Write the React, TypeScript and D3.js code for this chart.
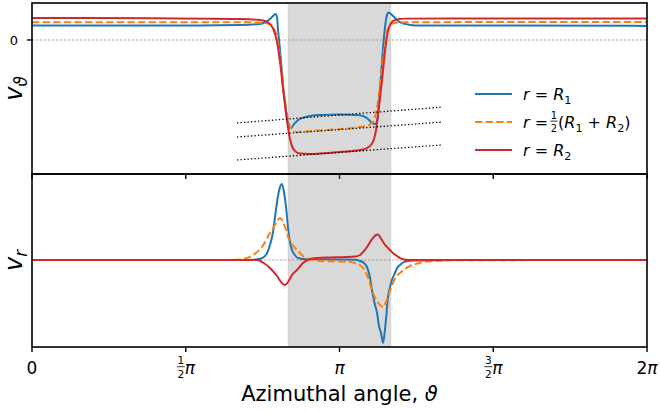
import React from 'react';
import * as d3 from 'd3';

const FONT = 'DejaVu Sans';

// azimuthal angle in degrees (0..360), velocities in arbitrary units

// top panel, v_theta
const r1TopTheta = [0, 98.3, 121.8, 133.5, 137.0, 139.3, 141.1, 142.5, 143.4, 144.0, 144.6, 145.8, 146.9, 148.1, 149.3, 150.4, 151.6, 153.4, 155.7, 158.0, 162.7, 168.6, 180.3, 189.1, 193.8, 196.7, 199.0, 200.8, 202.0, 203.1, 204.3, 205.5, 206.6, 207.8, 208.7, 210.1, 211.9, 214.2, 218.3, 224.2, 244.7, 360];
const r1TopV = [0.66, 0.66, 0.68, 0.73, 0.82, 0.95, 1.09, 1.18, 1.05, 0.45, 0, -1.0, -2.05, -2.86, -3.55, -3.98, -4.0, -3.82, -3.64, -3.55, -3.45, -3.41, -3.39, -3.41, -3.45, -3.59, -3.77, -3.82, -3.68, -2.95, -1.59, -0.36, 0.55, 1.14, 1.25, 1.18, 1.05, 0.86, 0.73, 0.66, 0.66, 0.64];

const midTopTheta = [0, 127.6, 136.4, 139.3, 141.7, 143.4, 145.2, 146.9, 148.7, 149.9, 151.0, 152.8, 155.7, 159.8, 168.6, 180.3, 192.0, 196.7, 199.0, 200.8, 202.5, 204.3, 206.1, 207.8, 209.6, 212.5, 218.3, 244.7, 360];
const midTopV = [0.8, 0.8, 0.77, 0.7, 0.5, 0.09, -0.82, -2.0, -3.09, -3.64, -3.91, -4.09, -4.18, -4.16, -4.11, -4.05, -3.95, -3.89, -3.77, -3.5, -2.82, -1.64, -0.45, 0.36, 0.68, 0.78, 0.8, 0.81, 0.82];

const r2TopTheta = [0, 69.1, 121.8, 133.5, 137.6, 139.9, 141.7, 143.4, 145.2, 146.9, 148.7, 149.9, 151.0, 152.2, 154.0, 156.9, 162.7, 168.6, 180.3, 192.0, 196.1, 198.4, 200.2, 201.4, 202.5, 203.7, 204.9, 206.1, 207.2, 208.4, 209.6, 211.3, 213.7, 218.3, 244.7, 360];
const r2TopV = [1.0, 0.99, 0.95, 0.91, 0.82, 0.68, 0.41, -0.09, -1.0, -2.18, -3.32, -4.0, -4.5, -4.82, -5.05, -5.16, -5.18, -5.16, -5.09, -5.0, -4.91, -4.77, -4.5, -4.09, -3.41, -2.64, -1.82, -0.91, -0.14, 0.41, 0.68, 0.86, 0.93, 0.97, 0.98, 0.98];

// dotted straight fits across the plateau
const fitTheta = [120, 240];
const fitR1 = [-3.77, -3.05];
const fitMid = [-4.41, -3.73];
const fitR2 = [-5.45, -4.77];

// bottom panel, v_r
const r1BotTheta = [0, 121.8, 129.4, 134.6, 137.6, 139.3, 141.1, 142.2, 144.0, 145.2, 146.3, 147.5, 148.7, 149.9, 151.0, 152.2, 154.0, 155.7, 159.8, 180.3, 189.1, 192.0, 194.3, 196.1, 197.9, 199.0, 200.8, 202.0, 203.1, 204.3, 205.5, 206.6, 207.2, 208.4, 209.6, 210.7, 212.5, 213.7, 215.4, 217.2, 220.1, 223.0, 244.7, 360];
const r1BotV = [0, 0, 0.03, 0.17, 0.7, 1.5, 2.8, 4.2, 6.4, 7.3, 7.6, 6.8, 5.3, 3.2, 1.8, 1.0, 0.45, 0.2, 0.08, 0.05, 0.02, -0.1, -0.3, -0.7, -1.8, -3.0, -4.5, -5.3, -6.6, -7.3, -8.3, -7.0, -6.0, -3.7, -2.7, -2.0, -1.3, -0.8, -0.5, -0.25, -0.1, -0.05, 0, 0];

const midBotTheta = [0, 113.0, 121.8, 129.4, 134.6, 139.3, 142.2, 145.2, 146.9, 148.7, 149.9, 152.2, 154.0, 156.9, 158.6, 162.7, 168.6, 180.3, 186.1, 189.1, 192.0, 194.3, 196.1, 197.9, 199.6, 202.0, 203.7, 205.5, 207.2, 208.4, 210.1, 211.3, 213.1, 215.4, 218.3, 221.3, 224.8, 228.9, 237.1, 244.7, 360];
const midBotV = [0, 0, 0.05, 0.5, 1.3, 2.7, 3.5, 4.2, 3.8, 3.0, 2.3, 1.6, 1.2, 0.7, 0.4, 0.05, -0.1, -0.15, -0.2, -0.3, -0.5, -0.9, -1.5, -2.4, -3.3, -4.1, -4.5, -4.7, -4.2, -3.7, -2.8, -2.3, -1.7, -1.3, -0.9, -0.6, -0.4, -0.2, -0.1, -0.03, 0];

const r2BotTheta = [0, 121.8, 131.7, 135.2, 139.3, 143.4, 146.3, 148.1, 149.9, 152.2, 155.1, 158.6, 162.7, 166.8, 174.4, 183.2, 189.1, 192.0, 194.3, 196.1, 197.9, 199.6, 201.4, 202.5, 203.7, 205.5, 207.2, 208.4, 210.1, 211.3, 213.7, 215.4, 217.8, 220.1, 244.7, 360];
const r2BotV = [0, 0, 0, -0.25, -0.8, -1.6, -2.3, -2.5, -2.2, -1.5, -1.0, -0.3, 0.1, 0.2, 0.25, 0.3, 0.35, 0.5, 0.9, 1.3, 1.8, 2.2, 2.5, 2.55, 2.3, 1.8, 1.4, 1.2, 0.9, 0.7, 0.4, 0.2, 0.05, 0, 0, 0];

const bandTheta = [150, 210];
const xTicks = [0, 90, 180, 270, 360];
const topLimits = [-6.09, 1.68];
const botLimits = [-8.7, 8.6];

const BLUE = '#1f77b4';
const ORANGE = '#ff7f0e';
const RED = '#d62728';

type Part = { t: string; i?: boolean; sub?: boolean };

const MText = ({ x, y, size, parts, anchor = 'start', transform }: any) => {
  let shift = 0;
  return (
    <text x={x} y={y} fontSize={size} fontFamily={FONT} textAnchor={anchor} transform={transform} style={{ whiteSpace: 'pre' }}>
      {parts.map((p: Part, k: number) => {
        const want = p.sub ? size * 0.22 : 0;
        const dy = want - shift;
        shift = want;
        return (
          <tspan key={k} dy={dy} fontStyle={p.i ? 'italic' : 'normal'} fontSize={p.sub ? size * 0.7 : size}>
            {p.t}
          </tspan>
        );
      })}
    </text>
  );
};

// stacked fraction, cx = centre, y = main baseline, f = main font size
const Frac = ({ cx, y, f, num, den }: any) => (
  <g fontFamily={FONT} fontSize={f * 0.62} textAnchor="middle">
    <text x={cx} y={y - f * 0.58}>{num}</text>
    <line x1={cx - f * 0.23} x2={cx + f * 0.23} y1={y - f * 0.43} y2={y - f * 0.43} stroke="black" strokeWidth={0.8} />
    <text x={cx} y={y + f * 0.22}>{den}</text>
  </g>
);

export default function App() {
  const W = 660, H = 412;
  const left = 32, right = 647, top1 = 3, mid = 174, bot2 = 347;

  const x = d3.scaleLinear().domain([0, 360]).range([left, right]);
  const yT = d3.scaleLinear().domain(topLimits).range([mid, top1]);
  const yB = d3.scaleLinear().domain(botLimits).range([bot2, mid]);

  const path = (th: number[], v: number[], y: any) =>
    d3.line<[number, number]>()
      .x(d => x(d[0]))
      .y(d => y(d[1]))
      .curve(d3.curveMonotoneX)(d3.zip(th, v) as [number, number][]) || '';
  const straight = (th: number[], v: number[], y: any) =>
    d3.line<[number, number]>().x(d => x(d[0])).y(d => y(d[1]))(d3.zip(th, v) as [number, number][]) || '';

  const tickF = 17;
  const tickY = 374;

  const tickLabel = (t: number) => {
    const cx = x(t);
    if (t === 0) return <text key={t} x={cx} y={tickY} textAnchor="middle" fontFamily={FONT} fontSize={tickF}>0</text>;
    if (t === 180) return <text key={t} x={cx} y={tickY} textAnchor="middle" fontFamily={FONT} fontSize={tickF} fontStyle="italic">π</text>;
    if (t === 360)
      return (
        <text key={t} x={cx} y={tickY} textAnchor="middle" fontFamily={FONT} fontSize={tickF}>
          2<tspan fontStyle="italic">π</tspan>
        </text>
      );
    const num = t === 90 ? '1' : '3';
    return (
      <g key={t}>
        <Frac cx={cx - 5} y={tickY} f={tickF} num={num} den="2" />
        <text x={cx - 1} y={tickY} fontFamily={FONT} fontSize={tickF} fontStyle="italic">π</text>
      </g>
    );
  };

  const legendRows = [
    { color: BLUE, dash: undefined, y: 94 },
    { color: ORANGE, dash: '7.4,3.2', y: 122 },
    { color: RED, dash: undefined, y: 150 },
  ];
  const lx = 523, lf = 16;

  return (
    <svg width={W} height={H} style={{ position: 'absolute', left: 0, top: 0 }} fontFamily={FONT}>
      <defs>
        <clipPath id="clipTop"><rect x={left} y={top1} width={right - left} height={mid - top1} /></clipPath>
        <clipPath id="clipBot"><rect x={left} y={mid} width={right - left} height={bot2 - mid} /></clipPath>
      </defs>
      <rect width={W} height={H} fill="white" />

      {/* ---- top panel ---- */}
      <rect x={x(bandTheta[0])} y={top1} width={x(bandTheta[1]) - x(bandTheta[0])} height={mid - top1}
        fill="#808080" fillOpacity={0.3} stroke="#808080" strokeOpacity={0.15} strokeWidth={1.5} />
      <line x1={left} x2={right} y1={yT(0)} y2={yT(0)} stroke="#999" strokeWidth={0.8} strokeDasharray="2.5,1.5" />
      <g clipPath="url(#clipTop)" fill="none" strokeWidth={2}>
        <path d={path(r1TopTheta, r1TopV, yT)} stroke={BLUE} />
        <path d={path(midTopTheta, midTopV, yT)} stroke={ORANGE} strokeDasharray="7.4,3.2" />
        <path d={path(r2TopTheta, r2TopV, yT)} stroke={RED} />
      </g>
      <g fill="none" stroke="black" strokeWidth={1.3} strokeDasharray="1.3,2.2">
        <path d={straight(fitTheta, fitR1, yT)} />
        <path d={straight(fitTheta, fitMid, yT)} />
        <path d={straight(fitTheta, fitR2, yT)} />
      </g>
      {xTicks.map(t => (
        <line key={'tt' + t} x1={x(t)} x2={x(t)} y1={mid} y2={mid + 5} stroke="black" strokeWidth={1.4} />
      ))}
      <line x1={left - 5} x2={left} y1={yT(0)} y2={yT(0)} stroke="black" strokeWidth={1.4} />
      <text x={left - 14} y={yT(0) + 4.7} textAnchor="end" fontSize={13}>0</text>
      <MText x={0} y={0} size={24} anchor="middle" transform={`translate(22,${(top1 + mid) / 2}) rotate(-90)`}
        parts={[{ t: 'v', i: true }, { t: 'ϑ', i: true, sub: true }]} />

      {/* legend */}
      {legendRows.map((r, k) => (
        <line key={k} x1={475} x2={512} y1={r.y} y2={r.y} stroke={r.color} strokeWidth={2} strokeDasharray={r.dash} />
      ))}
      <MText x={lx} y={legendRows[0].y + 6} size={lf} parts={[{ t: 'r', i: true }, { t: ' = ' }, { t: 'R', i: true }, { t: '1', sub: true }]} />
      <MText x={lx} y={legendRows[1].y + 6} size={lf} parts={[{ t: 'r', i: true }, { t: ' = ' }]} />
      <Frac cx={554} y={legendRows[1].y + 6} f={lf} num="1" den="2" />
      <MText x={558} y={legendRows[1].y + 6} size={lf}
        parts={[{ t: '(' }, { t: 'R', i: true }, { t: '1', sub: true }, { t: ' + ' }, { t: 'R', i: true }, { t: '2', sub: true }, { t: ')' }]} />
      <MText x={lx} y={legendRows[2].y + 6} size={lf} parts={[{ t: 'r', i: true }, { t: ' = ' }, { t: 'R', i: true }, { t: '2', sub: true }]} />

      {/* ---- bottom panel ---- */}
      <rect x={x(bandTheta[0])} y={mid} width={x(bandTheta[1]) - x(bandTheta[0])} height={bot2 - mid}
        fill="#808080" fillOpacity={0.3} stroke="#808080" strokeOpacity={0.15} strokeWidth={1.5} />
      <line x1={left} x2={right} y1={yB(0)} y2={yB(0)} stroke="#999" strokeWidth={0.8} strokeDasharray="2.5,1.5" />
      <g clipPath="url(#clipBot)" fill="none" strokeWidth={2}>
        <path d={path(r1BotTheta, r1BotV, yB)} stroke={BLUE} />
        <path d={path(midBotTheta, midBotV, yB)} stroke={ORANGE} strokeDasharray="7.4,3.2" />
        <path d={path(r2BotTheta, r2BotV, yB)} stroke={RED} />
      </g>
      {xTicks.map(t => (
        <line key={'bt' + t} x1={x(t)} x2={x(t)} y1={bot2} y2={bot2 + 5} stroke="black" strokeWidth={1.4} />
      ))}
      {xTicks.map(tickLabel)}
      <MText x={0} y={0} size={24} anchor="middle" transform={`translate(22,${(mid + bot2) / 2}) rotate(-90)`}
        parts={[{ t: 'v', i: true }, { t: 'r', i: true, sub: true }]} />
      <text x={(left + right) / 2} y={401} textAnchor="middle" fontSize={21}>
        Azimuthal angle, <tspan fontStyle="italic">ϑ</tspan>
      </text>

      {/* spines */}
      <rect x={left} y={top1} width={right - left} height={mid - top1} fill="none" stroke="black" strokeWidth={1.6} />
      <rect x={left} y={mid} width={right - left} height={bot2 - mid} fill="none" stroke="black" strokeWidth={1.6} />
    </svg>
  );
}
